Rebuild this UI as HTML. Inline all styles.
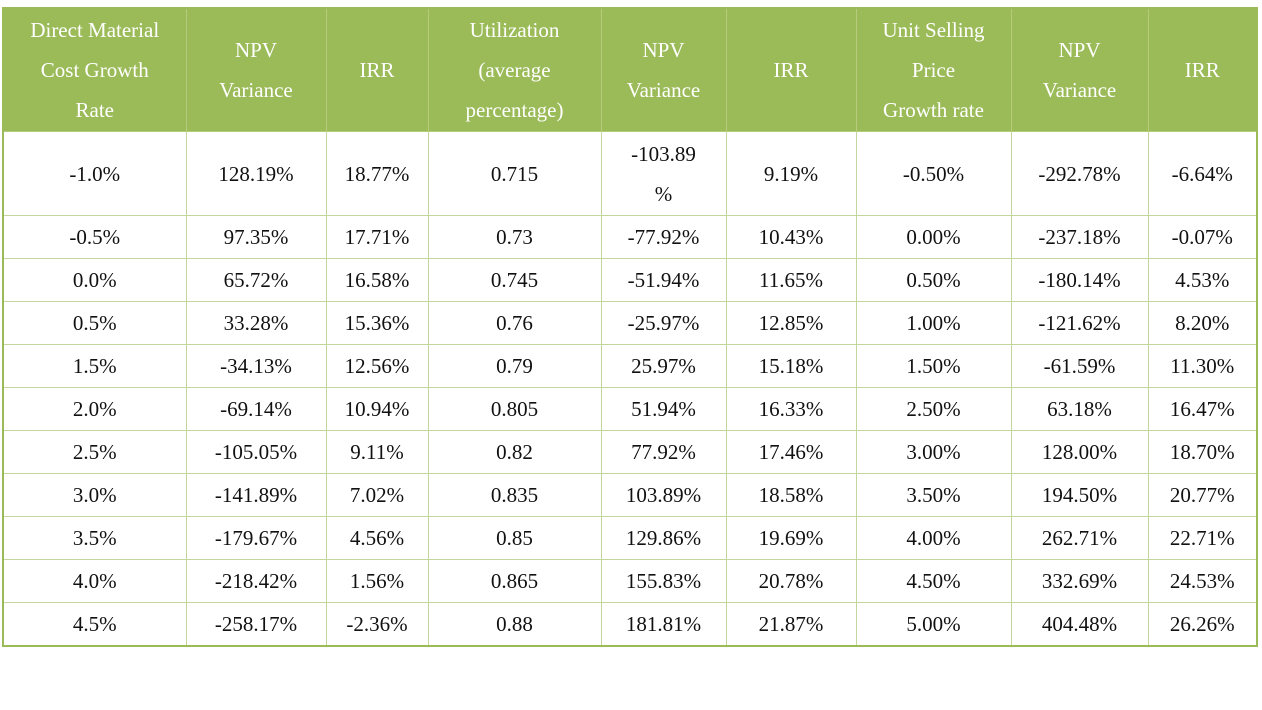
<!DOCTYPE html>
<html><head><meta charset="utf-8"><style>
body{margin:0;width:1262px;height:710px;background:#fff;position:relative;overflow:hidden;font-family:"Liberation Serif","Times New Roman",serif;}
table{position:absolute;left:2px;top:7px;border-collapse:collapse;table-layout:fixed;width:1254px;border:2px solid #9bbb59;}
td,th{border:1px solid #c3d69b;text-align:center;vertical-align:middle;font-size:21px;color:#111;padding:0;font-weight:normal;line-height:40px;font-family:"Liberation Serif","Times New Roman",serif;}
th{background:#9bbb59;color:#fff;height:122px;line-height:40px;border-color:#b4cc7c;padding:0 14px;}
tr.r1 td{height:83px;}
tr.r td{height:42px;line-height:30px;}
</style></head><body>
<table>
<colgroup><col style="width:183px"><col style="width:140px"><col style="width:102px"><col style="width:173px"><col style="width:125px"><col style="width:130px"><col style="width:155px"><col style="width:137px"><col style="width:109px"></colgroup>
<tr>
<th>Direct Material<br>Cost Growth<br>Rate</th>
<th>NPV<br>Variance</th>
<th>IRR</th>
<th>Utilization<br>(average<br>percentage)</th>
<th>NPV<br>Variance</th>
<th>IRR</th>
<th>Unit Selling<br>Price<br>Growth rate</th>
<th>NPV<br>Variance</th>
<th>IRR</th>
</tr>
<tr class="r1"><td>-1.0%</td><td>128.19%</td><td>18.77%</td><td>0.715</td><td>-103.89<br>%</td><td>9.19%</td><td>-0.50%</td><td>-292.78%</td><td>-6.64%</td></tr>
<tr class="r"><td>-0.5%</td><td>97.35%</td><td>17.71%</td><td>0.73</td><td>-77.92%</td><td>10.43%</td><td>0.00%</td><td>-237.18%</td><td>-0.07%</td></tr>
<tr class="r"><td>0.0%</td><td>65.72%</td><td>16.58%</td><td>0.745</td><td>-51.94%</td><td>11.65%</td><td>0.50%</td><td>-180.14%</td><td>4.53%</td></tr>
<tr class="r"><td>0.5%</td><td>33.28%</td><td>15.36%</td><td>0.76</td><td>-25.97%</td><td>12.85%</td><td>1.00%</td><td>-121.62%</td><td>8.20%</td></tr>
<tr class="r"><td>1.5%</td><td>-34.13%</td><td>12.56%</td><td>0.79</td><td>25.97%</td><td>15.18%</td><td>1.50%</td><td>-61.59%</td><td>11.30%</td></tr>
<tr class="r"><td>2.0%</td><td>-69.14%</td><td>10.94%</td><td>0.805</td><td>51.94%</td><td>16.33%</td><td>2.50%</td><td>63.18%</td><td>16.47%</td></tr>
<tr class="r"><td>2.5%</td><td>-105.05%</td><td>9.11%</td><td>0.82</td><td>77.92%</td><td>17.46%</td><td>3.00%</td><td>128.00%</td><td>18.70%</td></tr>
<tr class="r"><td>3.0%</td><td>-141.89%</td><td>7.02%</td><td>0.835</td><td>103.89%</td><td>18.58%</td><td>3.50%</td><td>194.50%</td><td>20.77%</td></tr>
<tr class="r"><td>3.5%</td><td>-179.67%</td><td>4.56%</td><td>0.85</td><td>129.86%</td><td>19.69%</td><td>4.00%</td><td>262.71%</td><td>22.71%</td></tr>
<tr class="r"><td>4.0%</td><td>-218.42%</td><td>1.56%</td><td>0.865</td><td>155.83%</td><td>20.78%</td><td>4.50%</td><td>332.69%</td><td>24.53%</td></tr>
<tr class="r"><td>4.5%</td><td>-258.17%</td><td>-2.36%</td><td>0.88</td><td>181.81%</td><td>21.87%</td><td>5.00%</td><td>404.48%</td><td>26.26%</td></tr>
</table>
</body></html>
